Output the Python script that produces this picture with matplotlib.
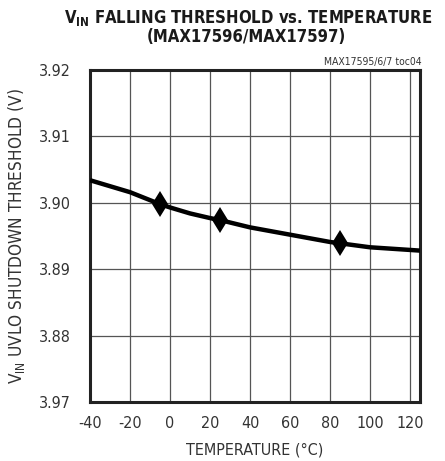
import matplotlib
matplotlib.use("Agg")
import matplotlib.pyplot as plt
from matplotlib.ticker import FixedLocator, FixedFormatter

temps = [-40, -20, -5, 0, 10, 20, 25, 40, 60, 80, 85, 100, 125]
vth = [3.9034, 3.9016, 3.8998, 3.8993, 3.8984, 3.8977, 3.8974, 3.8963,
       3.8952, 3.8941, 3.8939, 3.8933, 3.8928]
marker_t = [-5, 25, 85]
marker_v = [3.8998, 3.8974, 3.8939]
xticks = [-40, -20, 0, 20, 40, 60, 80, 100, 120]
xtick_labels = ["-40", "-20", "0", "20", "40", "60", "80", "100", "120"]
yticks = [3.87, 3.88, 3.89, 3.90, 3.91, 3.92]
ytick_labels = ["3.97", "3.88", "3.89", "3.90", "3.91", "3.92"]

plt.rcParams['font.family'] = ["DejaVu Sans"]
plt.rcParams['font.stretch'] = "condensed"
plt.rcParams['mathtext.fontset'] = "custom"
plt.rcParams['mathtext.rm'] = "DejaVu Sans"

fig = plt.figure(figsize=(4.45, 4.61), dpi=100)
ax = fig.add_axes([90/445, 1-402/461, 330/445, 332/461])

ax.plot(temps, vth, color="black", lw=3.2, solid_capstyle="butt",
        solid_joinstyle="round", zorder=3)
ax.plot(marker_t, marker_v, linestyle="none", marker="d", color="black",
        markersize=13, markeredgewidth=0, zorder=4)
ax.set_xlim(-40, 125)
ax.set_ylim(3.87, 3.92)
ax.xaxis.set_major_locator(FixedLocator(xticks))
ax.xaxis.set_major_formatter(FixedFormatter(xtick_labels))
ax.yaxis.set_major_locator(FixedLocator(yticks))
ax.yaxis.set_major_formatter(FixedFormatter(ytick_labels))
ax.grid(True, color="#555555", lw=0.9)
ax.tick_params(length=0, labelsize=11.5, colors="#333333")
ax.tick_params(axis="x", pad=10)
ax.tick_params(axis="y", pad=14)
for s in ax.spines.values():
    s.set_linewidth(2.2)
    s.set_color("#222222")

ax.set_xlabel("TEMPERATURE (°C)", fontsize=11.5, color="#333333", labelpad=8)
ax.set_ylabel(r"V$_{\mathregular{IN}}$ UVLO SHUTDOWN THRESHOLD (V)", fontsize=12.3,
              color="#333333")
ax.yaxis.set_label_coords(-0.19, 0.5)

fig.text(248/445, 1-23/461, r"V$_{\mathregular{\mathbf{IN}}}$ FALLING THRESHOLD vs. TEMPERATURE",
         ha="center", va="baseline", fontsize=12, fontweight="bold", color="#1a1a1a")
fig.text(246/445, 1-42/461, "(MAX17596/MAX17597)",
         ha="center", va="baseline", fontsize=12, fontweight="bold", color="#1a1a1a")
fig.text(422/445, 1-65/461, "MAX17595/6/7 toc04", ha="right", va="baseline",
         fontsize=7.5, color="#333333")

fig.savefig("out.png", dpi=100)
